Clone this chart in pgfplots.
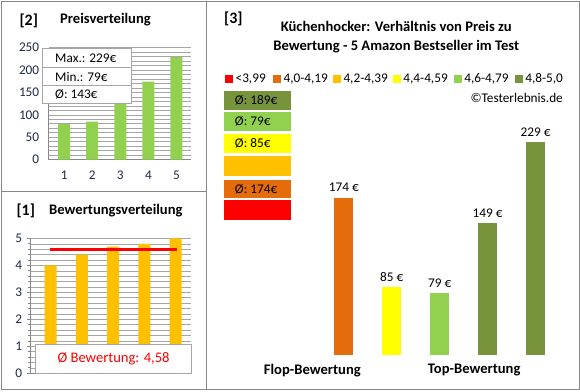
\documentclass[border=0pt]{standalone}
\usepackage{fontspec}
\setmainfont{Carlito}
\usepackage{pgfplots}
\pgfplotsset{compat=1.18}
\definecolor{cRed}{HTML}{FF0000}
\definecolor{cDOr}{HTML}{E46C0A}
\definecolor{cAmb}{HTML}{FFC000}
\definecolor{cYel}{HTML}{FFFF00}
\definecolor{cLGr}{HTML}{92D050}
\definecolor{cOli}{HTML}{77933C}
\definecolor{frameC}{HTML}{878787}
\definecolor{gridC}{HTML}{A6A6A6}
\definecolor{tickC}{HTML}{1F2A44}
\newcommand{\fs}{\fontsize{13.33}{15}\selectfont}
\newcommand{\fm}{\fontsize{14.67}{17}\selectfont}
\begin{document}
\begin{tikzpicture}[x=1bp,y=1bp]
\fill[white] (0,0) rectangle (580,390);
% ---------- Panel 2: Preisverteilung
\begin{axis}[at={(48bp,231bp)}, anchor=south west, scale only axis,
  width=142bp, height=112bp,
  xmin=0.45, xmax=5.5, ymin=0, ymax=250,
  ytick={0,50,...,250}, minor y tick num=4,
  xtick={1,2,3,4,5},
  xticklabel={\pgfmathprintnumber[assume math mode=true]{\tick}},
  ymajorgrids, yminorgrids,
  grid style={gridC, line width=0.6bp}, minor grid style={gridC, line width=0.6bp},
  axis x line*=bottom, axis y line*=left,
  axis line style={frameC, line width=0.8bp},
  x tick style={draw=none}, y tick style={draw=none},
  tick label style={font=\fs, text=tickC},
  /pgf/number format/assume math mode=true,
  xticklabel style={yshift=-8bp},
  yticklabel style={xshift=-6bp}]
\addplot[ybar, bar width=12bp, fill=cLGr, draw=none] coordinates {(1,79)(2,85)(3,149)(4,174)(5,229)};
\end{axis}
\draw[gridC, fill=white, line width=0.8bp] (42,287) rectangle (131,342);
\draw[gridC, line width=0.8bp] (42,323) -- (131,323) (42,305) -- (131,305);
\node[anchor=west, font=\fs] at (51,332.5) {Max.: 229€};
\node[anchor=west, font=\fs] at (51,314) {Min.: 79€};
\node[anchor=west, font=\fs] at (51,296) {Ø: 143€};
\node[font=\fontsize{16}{18}\selectfont\bfseries] at (28,370) {[2]};
\node[anchor=west, font=\fm\bfseries] at (56,371) {Preisverteilung};
% ---------- Panel 1: Bewertungsverteilung
\begin{axis}[at={(30bp,17bp)}, anchor=south west, scale only axis,
  width=160bp, height=135bp,
  xmin=0.36, xmax=5.48, ymin=0, ymax=5,
  ytick={0,...,5}, minor y tick num=4, xtick=\empty,
  ymajorgrids, yminorgrids,
  grid style={gridC, line width=0.6bp}, minor grid style={gridC, line width=0.6bp},
  axis x line*=bottom, axis y line*=left,
  axis line style={frameC, line width=0.8bp},
  y tick style={frameC, line width=0.8bp}, major tick length=4bp,
  tick align=outside,
  tick label style={font=\fs, text=tickC},
  /pgf/number format/assume math mode=true,
  yticklabel style={xshift=-1bp}]
\addplot[ybar, bar width=12bp, fill=cAmb, draw=none] coordinates {(1,4.0)(2,4.4)(3,4.7)(4,4.8)(5,5.0)};
\addplot[cRed, line width=3bp] coordinates {(0.97,4.58)(5.05,4.58)};
\end{axis}
\draw[gridC, fill=white, line width=0.8bp] (35,17) rectangle (191,46);
\node[font=\fm, text=cRed] at (113,32) {Ø Bewertung: 4,58};
\node[font=\fontsize{16}{18}\selectfont\bfseries] at (25,180) {[1]};
\node[anchor=west, font=\fm\bfseries] at (45,180) {Bewertungsverteilung};
% ---------- Panel 3
\begin{axis}[at={(309.9bp,35bp)}, anchor=south west, scale only axis,
  width=259.2bp, height=244.8bp,
  xmin=0.3, xmax=5.7, ymin=17.6, ymax=260,
  axis line style={draw=none}, tick style={draw=none},
  ytick=\empty, xtick={0.344,3.72},
  xticklabels={Flop-Bewertung,Top-Bewertung},
  xticklabel style={font=\fm\bfseries, yshift=-1bp},
  ybar, bar width=19bp, bar shift=0pt,
  /pgf/number format/assume math mode=true,
  nodes near coords={\pgfmathprintnumber{\pgfplotspointmeta}\ €},
  every node near coord/.append style={font=\fs, text=black, yshift=2bp}]
\addplot[fill=cDOr, draw=none] coordinates {(1,174)};
\addplot[fill=cYel, draw=none] coordinates {(2,85)};
\addplot[fill=cLGr, draw=none] coordinates {(3,79)};
\addplot[fill=cOli, draw=none] coordinates {(4,149)};
\addplot[fill=cOli, draw=none] coordinates {(5,229)};
\end{axis}
\node[font=\fontsize{16}{18}\selectfont\bfseries] at (233,372) {[3]};
\node[align=center, font=\fm\bfseries, text depth=0pt] at (396,355)
  {Küchenhocker: Verhältnis von Preis zu\\[2bp]Bewertung - 5 Amazon Bestseller im Test};
% legend row
\foreach \xx/\cc/\tt in {225/cRed/{<3,99}, 273/cDOr/{4,0-4,19}, 333/cAmb/{4,2-4,39}, 393/cYel/{4,4-4,59}, 454/cLGr/{4,6-4,79}, 515/cOli/{4,8-5,0}}{
  \fill[\cc] (\xx,308) rectangle ++(8,8);
  \node[anchor=west, font=\fs, inner sep=0pt] at (\xx+10,312) {\tt};
}
\node[anchor=east, font=\fs, inner sep=0pt] at (563,293) {©Testerlebnis.de};
% colour boxes
\fill[cOli] (224,280.7) rectangle (291,300);
\fill[cLGr] (224,259.3) rectangle (291,279);
\fill[cYel] (224,237.3) rectangle (291,257);
\fill[cAmb] (224,214.3) rectangle (291,235);
\fill[cDOr] (224,192.3) rectangle (291,211);
\fill[cRed] (224,170.3) rectangle (291,190);
\node[anchor=west, font=\fs] at (231,290.3) {Ø: 189€};
\node[anchor=west, font=\fs] at (231,269.1) {Ø: 79€};
\node[anchor=west, font=\fs] at (231,247.1) {Ø: 85€};
\node[anchor=west, font=\fs] at (231,201.6) {Ø: 174€};
% frames
\draw[frameC, line width=1.5bp] (0.75,0.75) rectangle (579.25,389.25);
\draw[frameC, line width=1.5bp] (206,0) -- (206,390);
\draw[frameC, line width=1.5bp] (0,199) -- (206,199);
\useasboundingbox (0,0) rectangle (580,390);
\end{tikzpicture}
\end{document}
